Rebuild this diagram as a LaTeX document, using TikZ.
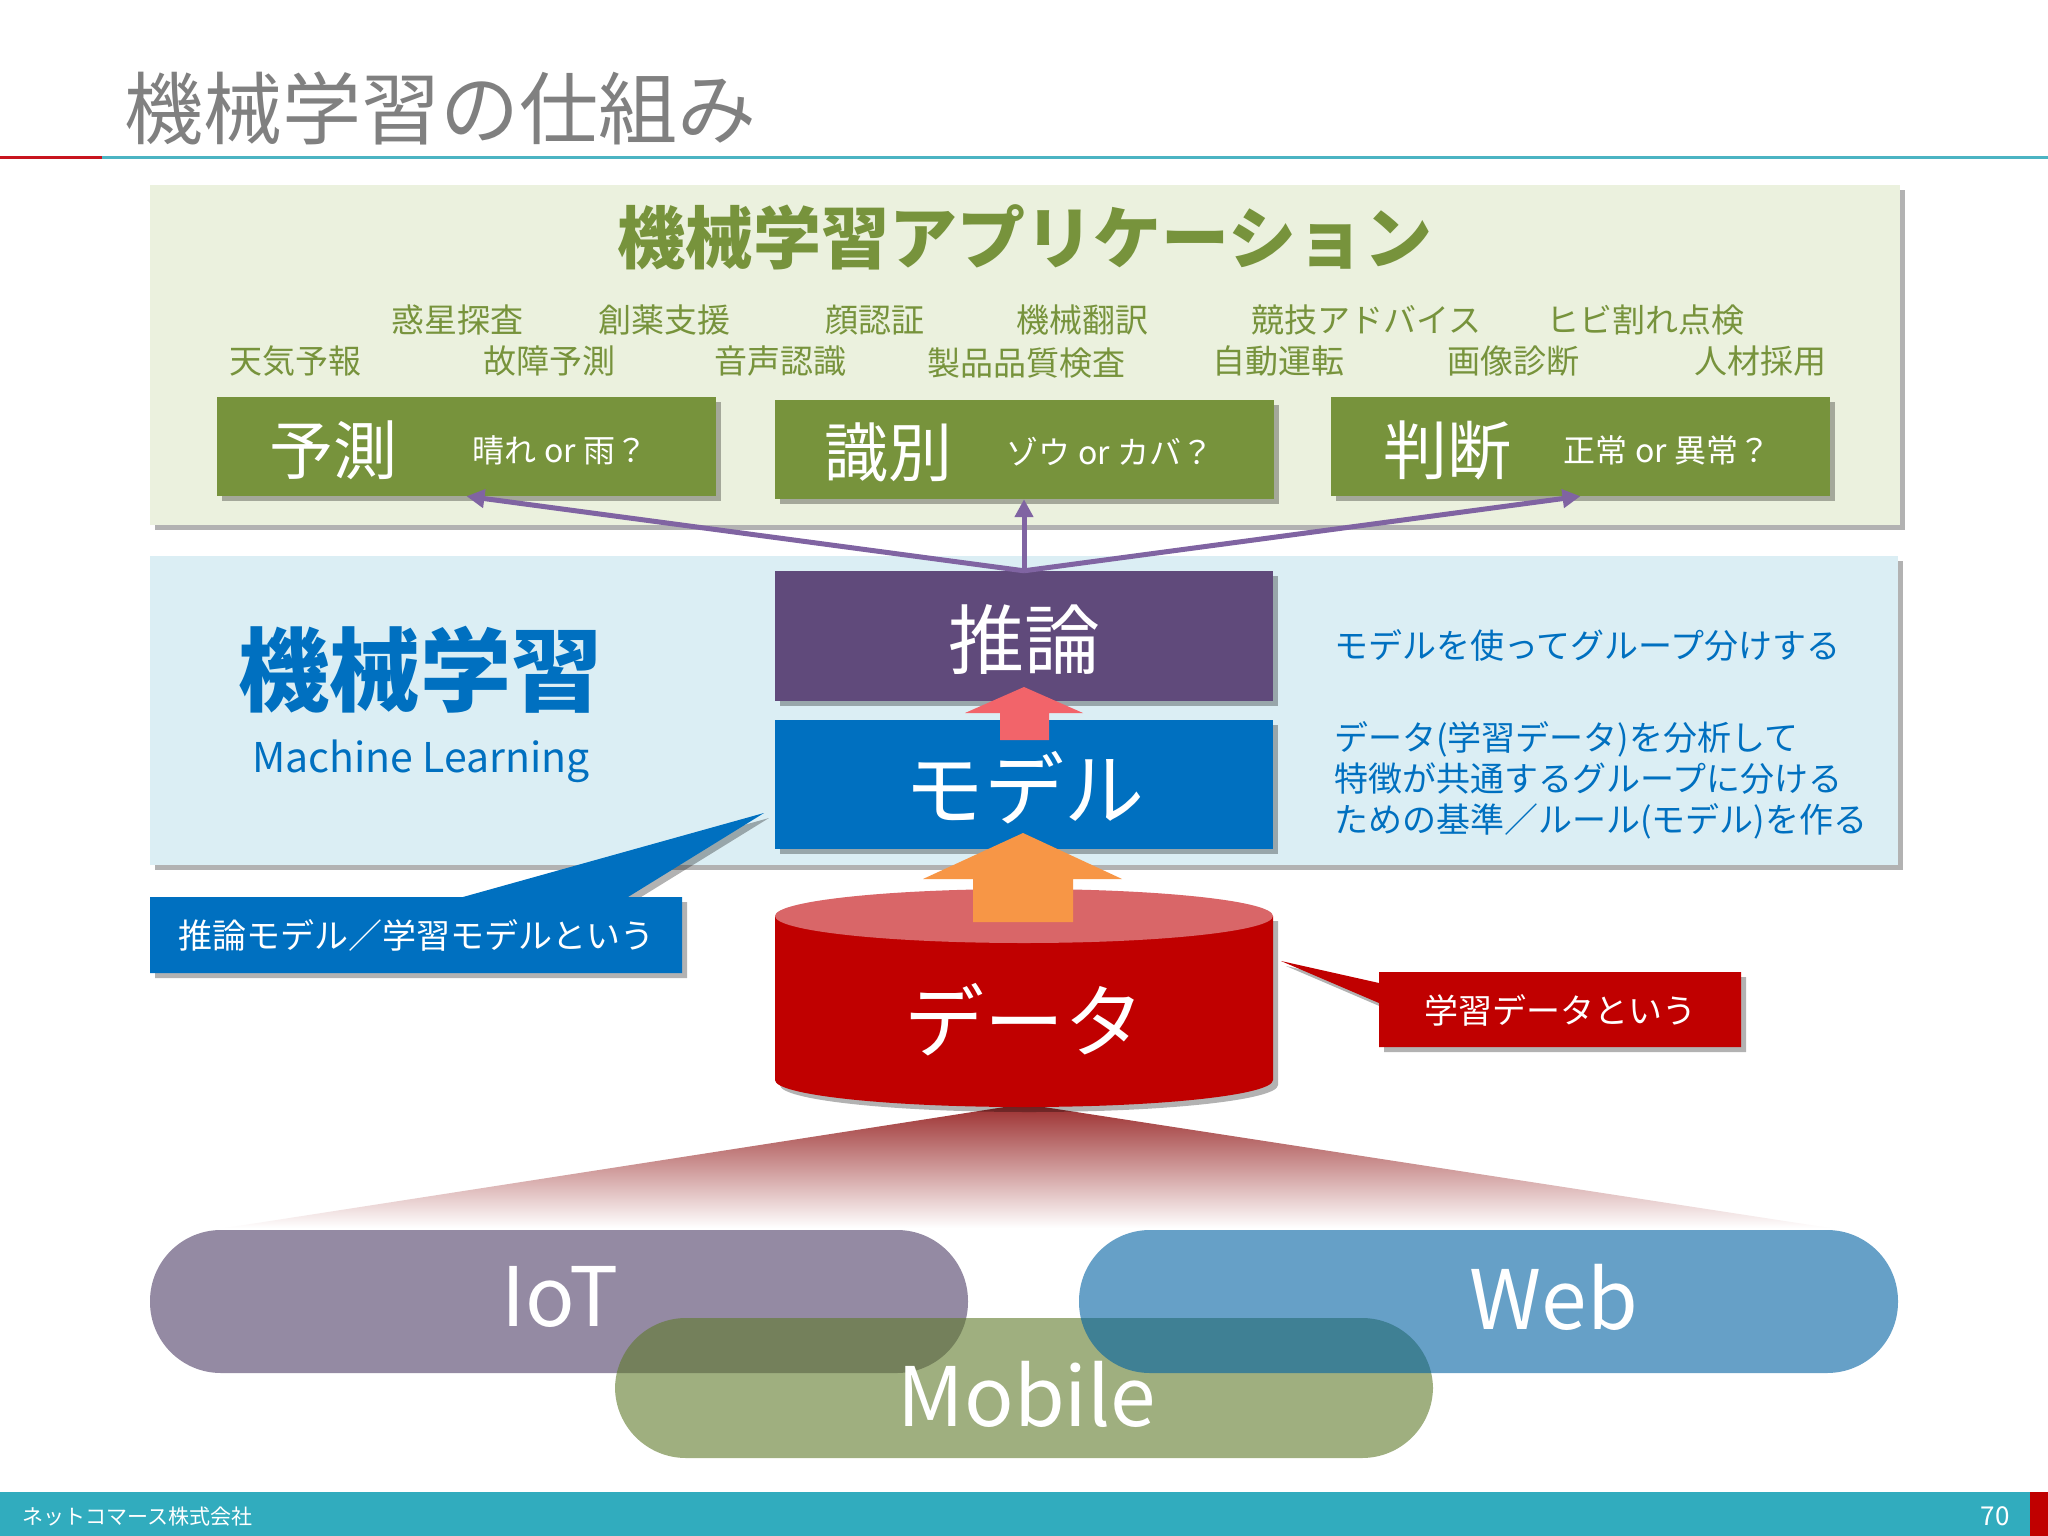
\documentclass[tikz,border=0pt]{standalone}
\usepackage{fontspec}
\setmainfont{Noto Sans CJK JP}
\usetikzlibrary{shadows,arrows.meta}

\definecolor{titlegray}{RGB}{128,128,128}
\definecolor{lineteal}{RGB}{75,180,195}
\definecolor{linered}{RGB}{200,20,30}
\definecolor{appbg}{RGB}{235,241,222}
\definecolor{appgreen}{RGB}{119,147,60}
\definecolor{mlbg}{RGB}{219,238,244}
\definecolor{mlblue}{RGB}{0,112,192}
\definecolor{infpurple}{RGB}{96,74,123}
\definecolor{arrpurple}{RGB}{128,100,162}
\definecolor{datared}{RGB}{192,0,0}
\definecolor{datatop}{RGB}{217,102,104}
\definecolor{arrred}{RGB}{242,100,106}
\definecolor{arrorange}{RGB}{247,150,70}
\definecolor{iotc}{RGB}{77,60,102}
\definecolor{mobc}{RGB}{95,122,43}
\definecolor{webc}{RGB}{0,97,163}
\definecolor{footteal}{RGB}{49,172,190}
\definecolor{gradtop}{RGB}{155,45,45}

\tikzset{
 shd/.style={drop shadow={shadow xshift=5pt, shadow yshift=-5pt, opacity=0.3, fill=black}},
 panelbox/.style={draw=none, inner sep=0pt, shd},
 gbox/.style={fill=appgreen, minimum width=499pt, minimum height=99pt, panelbox},
 cbox/.style={minimum width=498pt, panelbox},
 word/.style={text=appgreen, font=\fontsize{33}{40}\selectfont, inner sep=0pt},
 boxbig/.style={text=white, font=\fontsize{64}{76}\selectfont, inner sep=0pt},
 boxsmall/.style={text=white, font=\fontsize{32}{38}\selectfont, inner sep=0pt},
 parrow/.style={draw=arrpurple, line width=5pt, -{Triangle[length=18pt,width=18pt]}},
 pill/.style={rounded corners=71pt, fill opacity=0.6},
 pilltext/.style={text=white, font=\fontsize{82}{96}\selectfont, inner sep=0pt},
 desc/.style={text=mlblue, font=\fontsize{34}{41}\selectfont, inner sep=0pt, anchor=west, align=left},
 calltext/.style={text=white, font=\fontsize{34}{40}\selectfont, inner sep=0pt},
}

\begin{document}
\begin{tikzpicture}[x=1pt,y=-1pt]
\useasboundingbox[fill=white] (0,0) rectangle (2048,1536);

% title
\node[text=titlegray, font=\fontsize{79}{92}\selectfont, inner sep=0pt] (title) at (440,108) {機械学習の仕組み};
\fill[linered] (0,156.5) rectangle (102,159.5);
\fill[lineteal] (102,156.5) rectangle (2048,159.5);

% application panel
\node[panelbox, fill=appbg, minimum width=1750pt, minimum height=340pt] (apppanel) at (1025,355) {};
\node[text=appgreen, font=\bfseries\fontsize{68}{80}\selectfont, inner sep=0pt] (apptitle) at (1025,237) {機械学習アプリケーション};

\node[word] (w1) at (457,320) {惑星探査};
\node[word] (w2) at (664,320) {創薬支援};
\node[word] (w3) at (875,320) {顔認証};
\node[word] (w4) at (1082,320) {機械翻訳};
\node[word] (w5) at (1366,320) {競技アドバイス};
\node[word] (w6) at (1645,320) {ヒビ割れ点検};
\node[word] (w7) at (295,361) {天気予報};
\node[word] (w8) at (549,361) {故障予測};
\node[word] (w9) at (780,361) {音声認識};
\node[word] (w10) at (1026,363) {製品品質検査};
\node[word] (w11) at (1278,361) {自動運転};
\node[word] (w12) at (1513,361) {画像診断};
\node[word] (w13) at (1760,361) {人材採用};

\node[gbox] (yosoku) at (466.5,446.5) {};
\node[gbox] (shikibetsu) at (1024,449.5) {};
\node[gbox] (handan) at (1580.5,446.5) {};
\node[boxbig] (yosokuL) at (333,450) {予測};
\node[boxsmall] (yosokuS) at (560,450) {晴れ or 雨？};
\node[boxbig] (shikiL) at (888,452) {識別};
\node[boxsmall] (shikiS) at (1110,452) {ゾウ or カバ？};
\node[boxbig] (handanL) at (1447,450) {判断};
\node[boxsmall] (handanS) at (1667,450) {正常 or 異常？};

% machine learning panel
\node[panelbox, fill=mlbg, minimum width=1748pt, minimum height=309pt] (mlpanel) at (1024,710.5) {};
\node[text=mlblue, font=\bfseries\fontsize{91}{104}\selectfont, inner sep=0pt] (mltitle) at (420,670) {機械学習};
\node[text=mlblue, font=\fontsize{41}{48}\selectfont, inner sep=0pt] (mlsub) at (421,761) {Machine Learning};

\node[cbox, fill=infpurple, minimum height=130pt] (suiron) at (1024,636) {};
\node[text=white, font=\fontsize{76}{90}\selectfont, inner sep=0pt] (suironL) at (1024,640) {推論};
\node[cbox, fill=mlblue, minimum height=129pt] (model) at (1024,784.5) {};
\node[text=white, font=\fontsize{80}{94}\selectfont, inner sep=0pt] (modelL) at (1024,788) {モデル};

\node[desc] (desc1) at (1334,645) {モデルを使ってグループ分けする};
\node[desc] (desc2) at (1334,780) {データ(学習データ)を分析して\\特徴が共通するグループに分ける\\ための基準／ルール(モデル)を作る};

% purple arrows
\draw[parrow] (suiron.north) -- (yosoku.south);
\draw[parrow] (suiron.north) -- (shikibetsu.south);
\draw[parrow] (suiron.north) -- (handan.south);

% red block arrow
\fill[arrred] (1000,740) -- (1000,713) -- (965,713) -- (1024,687) -- (1083,713) -- (1049,713) -- (1049,740) -- cycle;

% blue callout
\path[fill=mlblue, shd] (150,897) -- (463,897) -- (764,813) -- (628,897) -- (682,897) -- (682,973) -- (150,973) -- cycle;
\node[calltext] (bluecall) at (416,935) {推論モデル／学習モデルという};

% gradient triangle
\shade[top color=gradtop, bottom color=white] (1024,1104) -- (225,1228) -- (1830,1228) -- cycle;

% data cylinder
\path[fill=datared, shd] (775,916) -- (775,1080) arc[start angle=180, end angle=360, x radius=249pt, y radius=27pt] -- (1273,916) -- cycle;
\fill[datatop] (1024,916) ellipse [x radius=249pt, y radius=27pt];
\node[text=white, font=\fontsize{80}{94}\selectfont, inner sep=0pt] (data) at (1024,1020) {データ};

% orange block arrow
\fill[arrorange] (973,922) -- (973,879) -- (923,879) -- (1023,833) -- (1122,879) -- (1073,879) -- (1073,922) -- cycle;

% red callout
\path[fill=datared, shd] (1379,972) -- (1741,972) -- (1741,1047) -- (1379,1047) -- (1379,1003) -- (1281,961) -- (1379,983) -- cycle;
\node[calltext] (redcall) at (1560,1010) {学習データという};

% pills
\fill[pill, iotc] (150,1230) rectangle (968,1373);
\fill[pill, mobc] (615,1318) rectangle (1433,1458);
\fill[pill, webc] (1079,1230) rectangle (1898,1373);
\node[pilltext] (iot) at (560,1297) {IoT};
\node[pilltext] (web) at (1554,1297) {Web};
\node[pilltext] (mobile) at (1027,1394) {Mobile};

% footer
\fill[footteal] (0,1492) rectangle (2048,1536);
\fill[datared] (2030,1492) rectangle (2048,1536);
\node[text=white, font=\fontsize{21}{25}\selectfont, inner sep=0pt, anchor=west] (company) at (22,1517) {ネットコマース株式会社};
\node[text=white, font=\fontsize{26}{30}\selectfont, inner sep=0pt] (pageno) at (1995,1516) {70};
\end{tikzpicture}
\end{document}
